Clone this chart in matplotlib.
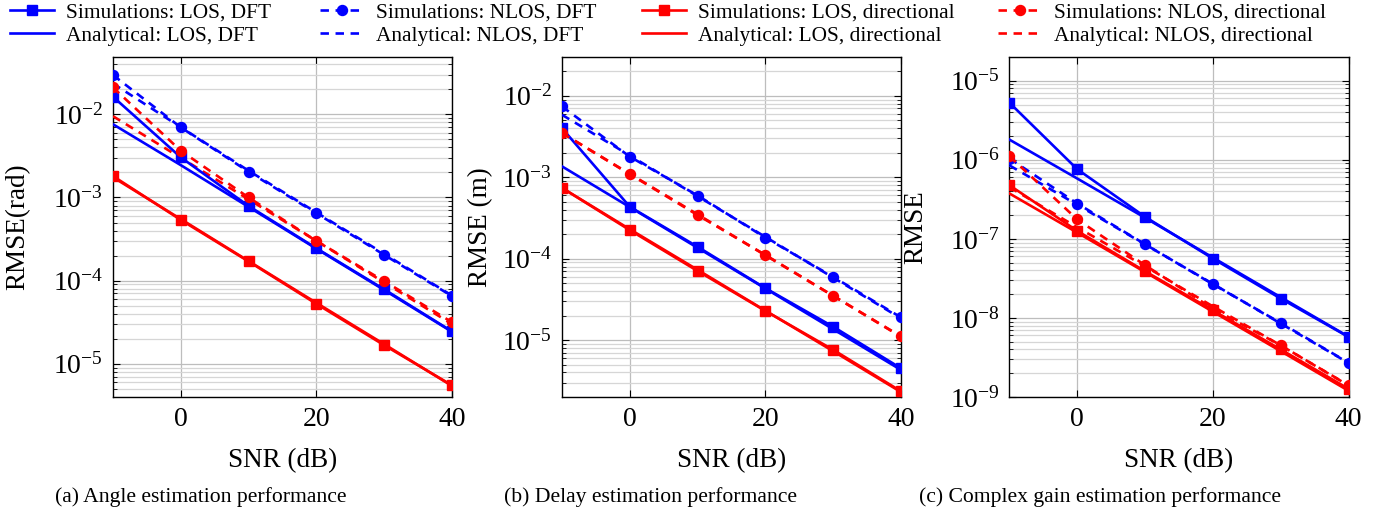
import numpy as np
import matplotlib
matplotlib.use("Agg")
import matplotlib.pyplot as plt
from matplotlib.lines import Line2D
from matplotlib.ticker import FixedLocator, NullFormatter

plt.rcParams['font.family'] = 'serif'
plt.rcParams['font.serif'] = ['Liberation Serif', 'DejaVu Serif']
plt.rcParams['mathtext.fontset'] = 'stix'

snr = [-10, 0, 10, 20, 30, 40]

# (a) Angle estimation (rad)
a_sim_los_dft = [1.63e-2, 3.04e-3, 7.9e-4, 2.45e-4, 7.85e-5, 2.45e-5]
a_ana_los_dft = [7.6e-3, 2.45e-3, 7.7e-4, 2.42e-4, 7.7e-5, 2.42e-5]
a_sim_nlos_dft = [2.97e-2, 6.97e-3, 2.04e-3, 6.46e-4, 2.04e-4, 6.5e-5]
a_ana_nlos_dft = [2.35e-2, 7.0e-3, 2.1e-3, 6.6e-4, 2.1e-4, 6.6e-5]
a_sim_los_dir = [1.81e-3, 5.37e-4, 1.7e-4, 5.25e-5, 1.67e-5, 5.5e-6]
a_ana_los_dir = [1.75e-3, 5.5e-4, 1.72e-4, 5.4e-5, 1.72e-5, 5.4e-6]
a_sim_nlos_dir = [2.11e-2, 3.65e-3, 1.0e-3, 3.0e-4, 9.86e-5, 3.16e-5]
a_ana_nlos_dir = [9.5e-3, 3.0e-3, 9.5e-4, 3.0e-4, 9.5e-5, 3.0e-5]

# (b) Delay estimation (m)
b_sim_los_dft = [4.0e-3, 4.34e-4, 1.4e-4, 4.34e-5, 1.46e-5, 4.5e-6]
b_ana_los_dft = [1.36e-3, 4.3e-4, 1.36e-4, 4.3e-5, 1.36e-5, 4.3e-6]
b_sim_nlos_dft = [7.4e-3, 1.79e-3, 5.97e-4, 1.81e-4, 5.97e-5, 1.9e-5]
b_ana_nlos_dft = [5.85e-3, 1.85e-3, 5.85e-4, 1.85e-4, 5.85e-5, 1.85e-5]
b_sim_los_dir = [7.4e-4, 2.24e-4, 7.06e-5, 2.28e-5, 7.6e-6, 2.35e-6]
b_ana_los_dir = [7.4e-4, 2.3e-4, 7.3e-5, 2.3e-5, 7.3e-6, 2.3e-6]
b_sim_nlos_dir = [3.49e-3, 1.09e-3, 3.43e-4, 1.11e-4, 3.49e-5, 1.11e-5]
b_ana_nlos_dir = [3.5e-3, 1.1e-3, 3.5e-4, 1.1e-4, 3.5e-5, 1.1e-5]

# (c) Complex gain estimation
c_sim_los_dft = [5.27e-6, 7.6e-7, 1.9e-7, 5.64e-8, 1.76e-8, 5.75e-9]
c_ana_los_dft = [1.8e-6, 5.8e-7, 1.85e-7, 5.8e-8, 1.83e-8, 5.8e-9]
c_sim_nlos_dft = [1.04e-6, 2.8e-7, 8.55e-8, 2.67e-8, 8.64e-9, 2.72e-9]
c_ana_nlos_dft = [8.5e-7, 2.7e-7, 8.5e-8, 2.7e-8, 8.5e-9, 2.7e-9]
c_sim_los_dir = [4.77e-7, 1.26e-7, 3.9e-8, 1.25e-8, 4.0e-9, 1.27e-9]
c_ana_los_dir = [3.75e-7, 1.2e-7, 3.8e-8, 1.2e-8, 3.8e-9, 1.2e-9]
c_sim_nlos_dir = [1.11e-6, 1.76e-7, 4.64e-8, 1.31e-8, 4.5e-9, 1.41e-9]
c_ana_nlos_dir = [4.5e-7, 1.4e-7, 4.5e-8, 1.4e-8, 4.5e-9, 1.4e-9]

ylabels = ['RMSE(rad)', 'RMSE (m)', 'RMSE']
captions = ['(a) Angle estimation performance', '(b) Delay estimation performance',
            '(c) Complex gain estimation performance']
ylims = [(3.98e-6, 4.9e-2), (2.0e-6, 3.0e-2), (1e-9, 2.0e-5)]
x_ticks = [0, 20, 40]

BLUE = '#0000ff'
RED = '#ff0000'
LW = 1.9
MS = 7.2
DASH = (0, (3.2, 2.5))

fig = plt.figure(figsize=(13.9, 5.14), dpi=100)

W = 1390.0
H = 514.0
lefts = [113, 562, 1009.5]
label_right = [30, 493, 928]
caption_x = [201, 650, 1100]

datasets = [
    (a_sim_los_dft, a_ana_los_dft, a_sim_nlos_dft, a_ana_nlos_dft,
     a_sim_los_dir, a_ana_los_dir, a_sim_nlos_dir, a_ana_nlos_dir),
    (b_sim_los_dft, b_ana_los_dft, b_sim_nlos_dft, b_ana_nlos_dft,
     b_sim_los_dir, b_ana_los_dir, b_sim_nlos_dir, b_ana_nlos_dir),
    (c_sim_los_dft, c_ana_los_dft, c_sim_nlos_dft, c_ana_nlos_dft,
     c_sim_los_dir, c_ana_los_dir, c_sim_nlos_dir, c_ana_nlos_dir),
]

for i in range(3):
    ax = fig.add_axes([lefts[i] / W, 1 - 397 / H, 339 / W, 340 / H])
    (sl, al, sn, an, sld, ald, snd, and_) = datasets[i]
    ax.plot(snr, al, color=BLUE, lw=LW, zorder=3)
    ax.plot(snr, an, color=BLUE, lw=LW, ls=DASH, zorder=3)
    ax.plot(snr, ald, color=RED, lw=LW, zorder=3)
    ax.plot(snr, and_, color=RED, lw=LW, ls=DASH, zorder=3)
    ax.plot(snr, sl, color=BLUE, lw=LW, marker='s', ms=MS, zorder=4)
    ax.plot(snr, sn, color=BLUE, lw=LW, ls=DASH, marker='o', ms=MS, zorder=4)
    ax.plot(snr, sld, color=RED, lw=LW, marker='s', ms=MS, zorder=4)
    ax.plot(snr, snd, color=RED, lw=LW, ls=DASH, marker='o', ms=MS, zorder=4)

    ax.set_yscale('log')
    ax.set_xlim(-10, 40)
    lo, hi = ylims[i]
    ax.set_ylim(lo, hi)
    ax.set_xticks(x_ticks)
    # only decades / minor ticks inside the visible range
    e_lo = int(np.ceil(np.log10(lo) - 1e-9))
    e_hi = int(np.floor(np.log10(hi) + 1e-9))
    majors = [10.0 ** e for e in range(e_lo, e_hi + 1)]
    minors = [m * 10.0 ** e for e in range(e_lo - 1, e_hi + 1) for m in range(2, 10)
              if lo <= m * 10.0 ** e <= hi]
    ax.yaxis.set_major_locator(FixedLocator(majors))
    ax.yaxis.set_minor_locator(FixedLocator(minors))
    ax.yaxis.set_minor_formatter(NullFormatter())
    ax.grid(True, which='major', color='#bdbdbd', lw=0.9)
    ax.grid(True, which='minor', axis='y', color='#d6d6d6', lw=0.9)
    ax.set_axisbelow(True)
    ax.tick_params(axis='both', which='both', direction='in', top=True, right=True,
                   labelsize=20, color='black')
    ax.tick_params(axis='both', which='major', length=5, width=0.8, pad=7)
    ax.tick_params(axis='y', which='minor', length=3, width=0.6)
    ax.tick_params(axis='x', which='minor', bottom=False, top=False)
    for sp in ax.spines.values():
        sp.set_linewidth(1.0)
    ax.set_xlabel('SNR (dB)', fontsize=19.5, labelpad=12)
    ax.set_ylabel(ylabels[i], fontsize=19.5)
    ax.yaxis.set_label_coords((label_right[i] - lefts[i]) / 339.0, 0.5)
    fig.text(caption_x[i] / W, 1 - 497 / H, captions[i], fontsize=15.6,
             ha='center', va='center')

# legend: 4 columns placed individually
leg_cols = [
    [('Simulations: LOS, DFT', BLUE, '-', 's'), ('Analytical: LOS, DFT', BLUE, '-', None)],
    [('Simulations: NLOS, DFT', BLUE, DASH, 'o'), ('Analytical: NLOS, DFT', BLUE, DASH, None)],
    [('Simulations: LOS, directional', RED, '-', 's'), ('Analytical: LOS, directional', RED, '-', None)],
    [('Simulations: NLOS, directional', RED, DASH, 'o'), ('Analytical: NLOS, directional', RED, DASH, None)],
]
leg_x = [10, 320, 642, 998]
for col, x0 in zip(leg_cols, leg_x):
    handles = [Line2D([], [], color=c, ls=ls, lw=LW, marker=m, ms=MS) for (_, c, ls, m) in col]
    labels = [t for (t, _, _, _) in col]
    fig.legend(handles, labels, loc='upper left', bbox_to_anchor=(x0 / W, 1 - 3 / H),
               frameon=False, fontsize=15.4, handlelength=2.05, handletextpad=0.55,
               borderpad=0, borderaxespad=0, labelspacing=0.12, numpoints=1)

fig.savefig('out.png', dpi=100)
